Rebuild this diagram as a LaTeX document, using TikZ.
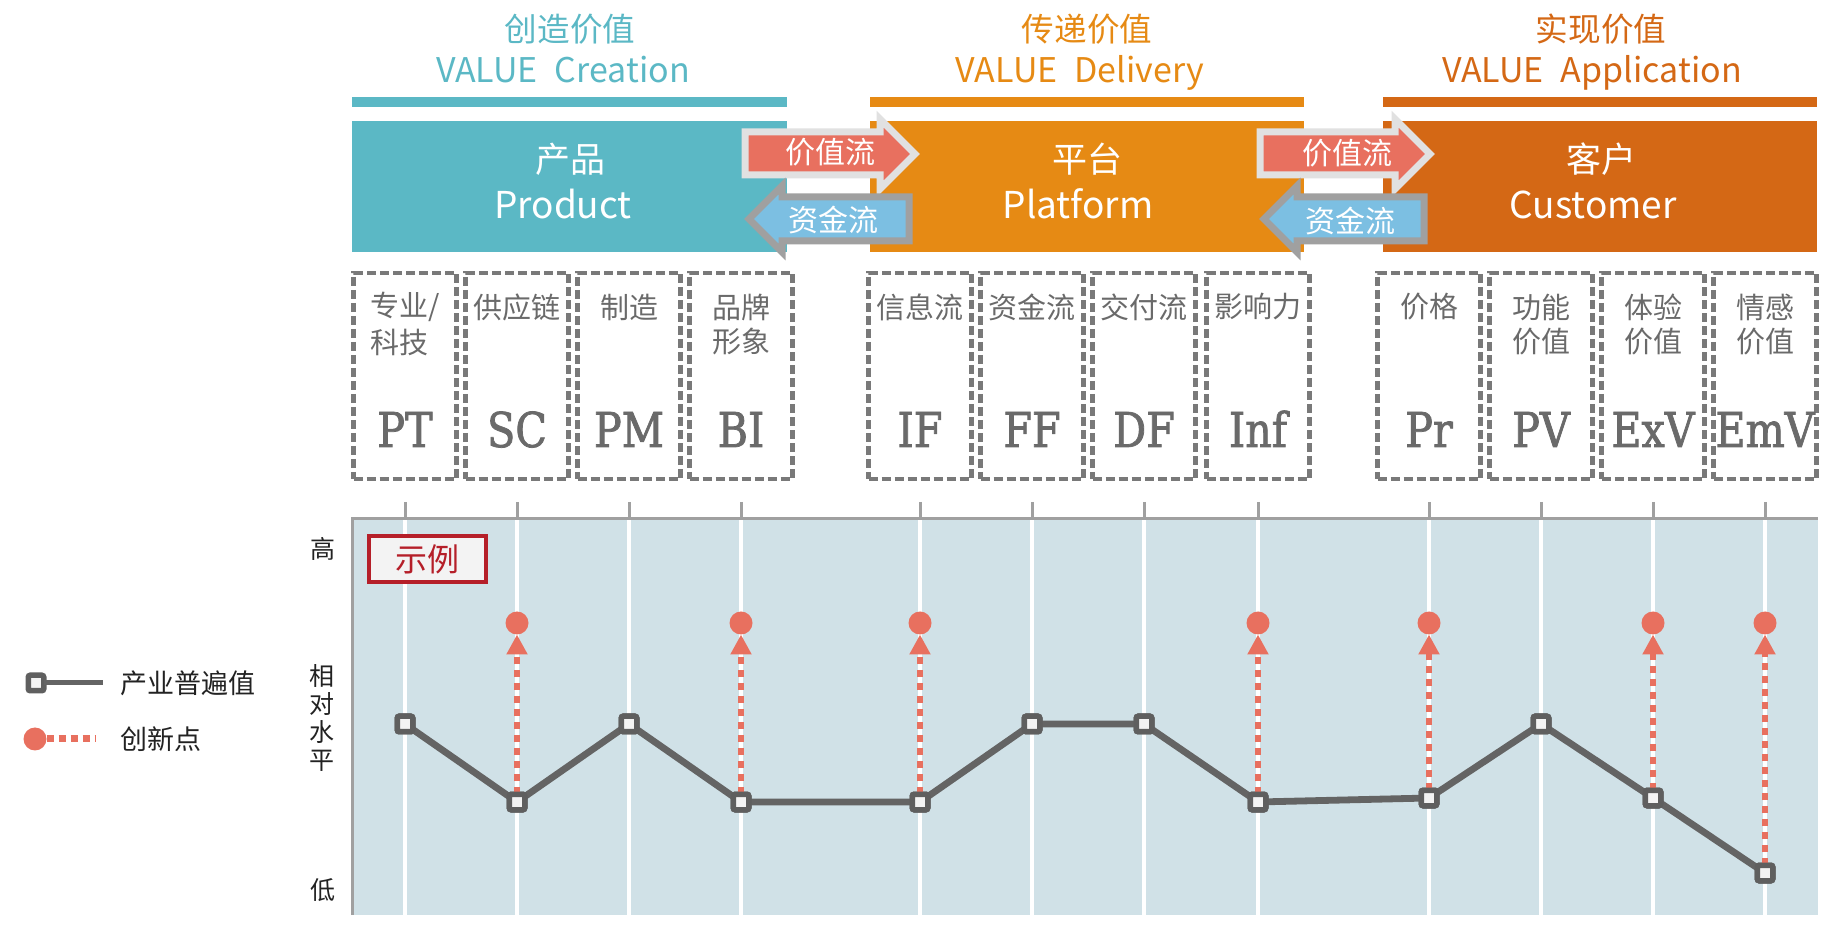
\documentclass[tikz,border=0pt]{standalone}
\usepackage{fontspec}
\setmainfont{Noto Sans CJK SC}
\newfontfamily\slab[FakeStretch=0.86,FakeBold=1.6]{DejaVu Serif}
\usetikzlibrary{arrows.meta}
\definecolor{cteal}{HTML}{5BB8C5}
\definecolor{corange}{HTML}{E68A14}
\definecolor{cdorange}{HTML}{D46815}
\definecolor{cred}{HTML}{E8705F}
\definecolor{cblue}{HTML}{7CBFE2}
\definecolor{clgray}{HTML}{E1E1E1}
\definecolor{cmgray}{HTML}{A0A0A0}
\definecolor{cdash}{HTML}{797979}
\definecolor{ctext}{HTML}{6A6A6A}
\definecolor{cchart}{HTML}{D0E1E7}
\definecolor{cline}{HTML}{646464}
\definecolor{cmark}{HTML}{5F5F5F}
\definecolor{cdred}{HTML}{B51F29}
\definecolor{cexbg}{HTML}{F3F3F3}
\definecolor{ctick}{HTML}{A0A0A0}
\definecolor{caxis}{HTML}{222222}
\begin{document}
\begin{tikzpicture}[x=0.5pt,y=-0.5pt,
  every node/.style={inner sep=0pt, outer sep=0pt},
  ttl/.style={font=\fontsize{16.3pt}{18pt}\selectfont},
  ttllat/.style={font=\fontsize{17pt}{20pt}\selectfont, anchor=base},
  boxcjk/.style={text=white, font=\fontsize{17.5pt}{20pt}\selectfont},
  boxlat/.style={text=white, font=\fontsize{18.5pt}{22pt}\selectfont, anchor=base},
  flowtext/.style={text=white, font=\fontsize{15pt}{17pt}\selectfont},
  redarrow/.style={fill=cred, draw=clgray, line width=3.5pt, miter limit=10},
  bluearrow/.style={fill=cblue, draw=cmgray, line width=3.5pt, miter limit=10},
  dbox/.style={draw=cdash, line width=2.4pt, dash pattern=on 4.5pt off 2pt, minimum width=51.5pt, minimum height=103pt},
  lab/.style={text=ctext, font=\fontsize{14.5pt}{16pt}\selectfont},
  abbr/.style={text=ctext, font=\slab\fontsize{24pt}{26pt}\selectfont, anchor=base},
  vline/.style={draw=white, line width=2pt},
  tick/.style={draw=ctick, line width=1.5pt},
  marker/.style={rectangle, draw=cmark, fill=cexbg, line width=2.75pt, minimum size=7.75pt, rounded corners=1pt},
  dot/.style={circle, fill=cred, minimum size=11.5pt},
  innov/.style={draw=cred, line width=3pt, dash pattern=on 3.5pt off 3pt, -{Triangle[length=10pt,width=10pt]}},
  polyl/.style={draw=cline, line width=3.4pt, line join=round},
  axl/.style={text=caxis, font=\fontsize{12.5pt}{14pt}\selectfont},
  legt/.style={text=caxis, font=\fontsize{13.5pt}{15pt}\selectfont, anchor=west}
]
\useasboundingbox (0,0) rectangle (1844,935);

% ---------- titles ----------
\node[ttl, text=cteal] (t1a) at (570,29) {创造价值};
\node[ttllat, text=cteal] (t1b) at (563,83) {VALUE\hspace{0.5em}Creation};
\node[ttl, text=corange] (t2a) at (1087,29) {传递价值};
\node[ttllat, text=corange] (t2b) at (1080,83) {VALUE\hspace{0.5em}Delivery};
\node[ttl, text=cdorange] (t3a) at (1601,29) {实现价值};
\node[ttllat, text=cdorange] (t3b) at (1592,83) {VALUE\hspace{0.5em}Application};

% ---------- bars ----------
\fill[cteal] (352,97) rectangle (787,107);
\fill[corange] (870,97) rectangle (1304,107);
\fill[cdorange] (1383,97) rectangle (1817,107);

% ---------- big boxes ----------
\fill[cteal] (352,121) rectangle (787,252);
\fill[corange] (870,121) rectangle (1304,252);
\fill[cdorange] (1383,121) rectangle (1817,252);
\node[boxcjk] (p1a) at (570,159) {产品};
\node[boxlat] (p1b) at (563,219) {Product};
\node[boxcjk] (p2a) at (1087,159) {平台};
\node[boxlat] (p2b) at (1078,219) {Platform};
\node[boxcjk] (p3a) at (1601,159) {客户};
\node[boxlat] (p3b) at (1593,219) {Customer};

% ---------- flow arrows ----------
\filldraw[redarrow] (745,132) -- (880,132) -- (880,119) -- (915,154) -- (880,189) -- (880,175) -- (745,175) -- cycle;
\filldraw[bluearrow] (909,197) -- (782,197) -- (782,186) -- (749,219) -- (782,252) -- (782,241) -- (909,241) -- cycle;
\node[flowtext] (v1) at (830,152) {价值流};
\node[flowtext] (f1) at (833,220) {资金流};
\filldraw[redarrow] (1260,132) -- (1395,132) -- (1395,119) -- (1430,154) -- (1395,189) -- (1395,175) -- (1260,175) -- cycle;
\filldraw[bluearrow] (1424,197) -- (1297,197) -- (1297,186) -- (1264,219) -- (1297,252) -- (1297,241) -- (1424,241) -- cycle;
\node[flowtext] (v2) at (1347,153) {价值流};
\node[flowtext] (f2) at (1350,221) {资金流};

% ---------- dashed boxes ----------
\foreach \c/\n in {405/1,517/2,629/3,741/4,920/5,1032/6,1144/7,1258/8,1429/9,1541/10,1653/11,1765/12}{
  \node[dbox] (b\n) at (\c,376) {};
}
\node[lab, anchor=west] (l1a) at (370,307) {专业/};
\node[lab, anchor=west] (l1b) at (370,342) {科技};
\node[lab] (l2) at (517,307) {供应链};
\node[lab] (l3) at (629,307) {制造};
\node[lab] (l4a) at (741,307) {品牌};
\node[lab] (l4b) at (741,342) {形象};
\node[lab] (l5) at (920,307) {信息流};
\node[lab] (l6) at (1032,307) {资金流};
\node[lab] (l7) at (1144,307) {交付流};
\node[lab] (l8) at (1258,307) {影响力};
\node[lab] (l9) at (1429,307) {价格};
\node[lab] (l10a) at (1541,307) {功能};
\node[lab] (l10b) at (1541,342) {价值};
\node[lab] (l11a) at (1653,307) {体验};
\node[lab] (l11b) at (1653,342) {价值};
\node[lab] (l12a) at (1765,307) {情感};
\node[lab] (l12b) at (1765,342) {价值};
\node[abbr] (a1) at (405,447) {PT};
\node[abbr] (a2) at (517,447) {SC};
\node[abbr] (a3) at (629,447) {PM};
\node[abbr] (a4) at (741,447) {BI};
\node[abbr] (a5) at (920,447) {IF};
\node[abbr] (a6) at (1032,447) {FF};
\node[abbr] (a7) at (1144,447) {DF};
\node[abbr] (a8) at (1258,447) {Inf};
\node[abbr] (a9) at (1429,447) {Pr};
\node[abbr] (a10) at (1541,447) {PV};
\node[abbr] (a11) at (1653,447) {ExV};
\node[abbr] (a12) at (1765,447) {EmV};

% ---------- chart ----------
\fill[cchart] (352,519) rectangle (1818,915);
\foreach \c in {405,517,629,741,920,1032,1144,1258,1429,1541,1653,1765}{
  \draw[vline] (\c,519) -- (\c,915);
  \draw[tick] (\c,502) -- (\c,519);
}
\draw[tick] (352,915) -- (352,519) -- (1818,519);

\node[draw=cdred, line width=2pt, fill=cexbg, minimum width=58.5pt, minimum height=23pt, text=cdred, font=\fontsize{16pt}{18pt}\selectfont] (ex) at (427.5,559) {示例};

\node[axl] (hi) at (323,549) {高};
\node[axl, align=center] (mid) at (322,718) {相\\对\\水\\平};
\node[axl] (lo) at (323,890) {低};

% data points
\coordinate (p1) at (405,724);
\coordinate (p2) at (517,802);
\coordinate (p3) at (629,724);
\coordinate (p4) at (741,802);
\coordinate (p5) at (920,802);
\coordinate (p6) at (1032,724);
\coordinate (p7) at (1144,724);
\coordinate (p8) at (1258,802);
\coordinate (p9) at (1429,798);
\coordinate (p10) at (1541,724);
\coordinate (p11) at (1653,798);
\coordinate (p12) at (1765,873);

\foreach \i in {1,...,12}{ \node[marker] (m\i) at (p\i) {}; }
\foreach \i/\c in {2/517,4/741,5/920,8/1258,9/1429,11/1653,12/1765}{
  \node[dot] (d\i) at (\c,623) {};
  \draw[innov] (m\i) -- (d\i);
}
\draw[polyl] (p1) -- (p2) -- (p3) -- (p4) -- (p5) -- (p6) -- (p7) -- (p8) -- (p9) -- (p10) -- (p11) -- (p12);
\foreach \i in {1,...,12}{ \node[marker] at (p\i) {}; }

% ---------- legend ----------
\node[marker] (lm) at (36,683) {};
\coordinate (le) at (103,683);
\draw[draw=cline, line width=2.5pt] (lm) -- (le);
\node[legt] (lt1) at (120,683) {产业普遍值};
\node[dot] (ld) at (35,739) {};
\coordinate (lde) at (96,739);
\draw[draw=cred, line width=3.5pt, dash pattern=on 3.5pt off 2.5pt] (ld) -- (lde);
\node[legt] (lt2) at (120,739) {创新点};
\end{tikzpicture}
\end{document}
